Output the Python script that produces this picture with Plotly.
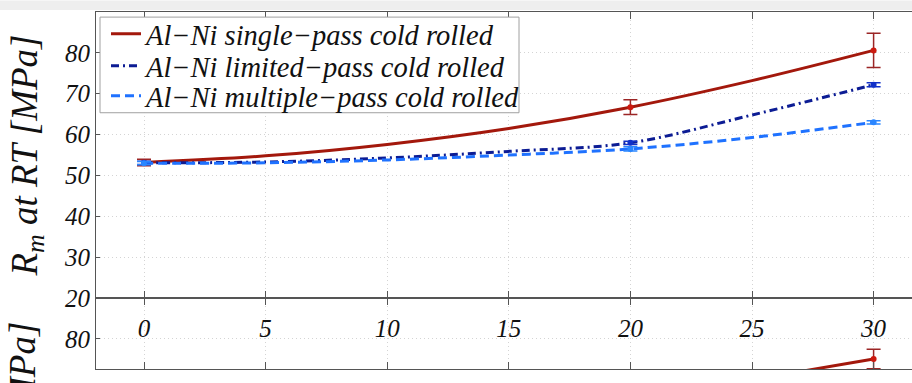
import plotly.graph_objects as go

# ---- data ----
x_pts = [0, 20, 30]
single_pts = [53.2, 66.7, 80.6]
single_err = [0.8, 1.8, 4.2]
limited_pts = [53.1, 58.0, 72.2]
limited_err = [0.4, 0.4, 0.5]
multiple_pts = [53.0, 56.5, 63.0]
multiple_err = [0.4, 0.5, 0.4]

x_curve = [0, 5, 10, 15, 20, 25, 30]
single_curve = [53.2, 54.8, 57.6, 61.5, 66.7, 73.2, 80.6]
limited_curve = [53.1, 53.3, 54.3, 55.9, 58.0, 64.8, 72.2]
multiple_curve = [53.0, 53.1, 53.8, 55.0, 56.5, 59.3, 63.0]

# lower panel (only its top edge is visible)
x_low_curve = [25, 30]
single_low_curve = [70.0, 75.1]
x_low_pts = [30]
single_low_pts = [75.1]
single_low_err = [2.4]

x_ticks = [0, 5, 10, 15, 20, 25, 30]
y_ticks = [20, 30, 40, 50, 60, 70, 80, 90]

names = ["Al\u2212Ni single\u2212pass cold rolled",
         "Al\u2212Ni limited\u2212pass cold rolled",
         "Al\u2212Ni multiple\u2212pass cold rolled"]

RED = "#a3180c"
RED_PT = "#cc1a10"
RED_ERR = "#9b2525"
DBLUE = "#0c1c94"
DBLUE_PT = "#1030c8"
LBLUE = "#1f72ff"
LBLUE_PT = "#2a86ff"

SERIF = "Liberation Serif"

fig = go.Figure()

fig.add_trace(go.Scatter(x=x_curve, y=single_curve, mode="lines", name=names[0],
                         line=dict(color=RED, width=3, shape="spline"),
                         legend="legend", xaxis="x", yaxis="y"))
fig.add_trace(go.Scatter(x=x_curve, y=limited_curve, mode="lines", name=names[1],
                         line=dict(color=DBLUE, width=3, shape="spline", dash="8px,4px,2px,4px"),
                         legend="legend2", xaxis="x", yaxis="y"))
fig.add_trace(go.Scatter(x=x_curve, y=multiple_curve, mode="lines", name=names[2],
                         line=dict(color=LBLUE, width=3, shape="spline", dash="9px,5px"),
                         legend="legend3", xaxis="x", yaxis="y"))

for ys, es, mc, ec in [(single_pts, single_err, RED_PT, RED_ERR),
                       (limited_pts, limited_err, DBLUE_PT, DBLUE_PT),
                       (multiple_pts, multiple_err, LBLUE_PT, LBLUE_PT)]:
    fig.add_trace(go.Scatter(x=x_pts, y=ys, mode="markers", showlegend=False,
                             marker=dict(color=mc, size=6),
                             error_y=dict(type="data", array=es, visible=True,
                                          color=ec, thickness=1.5, width=7),
                             xaxis="x", yaxis="y"))

fig.add_trace(go.Scatter(x=x_low_curve, y=single_low_curve, mode="lines", showlegend=False,
                         line=dict(color=RED, width=3, shape="spline"),
                         xaxis="x2", yaxis="y2"))
fig.add_trace(go.Scatter(x=x_low_pts, y=single_low_pts, mode="markers", showlegend=False,
                         marker=dict(color=RED_PT, size=6),
                         error_y=dict(type="data", array=single_low_err, visible=True,
                                      color=RED_ERR, thickness=1.5, width=7),
                         xaxis="x2", yaxis="y2"))

tickfont = dict(family=SERIF, size=25, color="#111", style="italic")
split = (383 - 309.3) / 371.0
xr = [-48 / 24.32, (912 - 144) / 24.32]


def px_x(p):
    return (p - 96) / 816.0


def px_y(p):
    return 1 - (p - 12) / 371.0


axis_common = dict(showline=True, linecolor="#555", linewidth=1, ticks="inside",
                   tickcolor="#555", showgrid=True, gridcolor="#d4d4d4", griddash="1px,3px",
                   gridwidth=1, zeroline=False, tickfont=tickfont)

legfont = dict(family=SERIF, size=28.5, color="#111", style="italic")
leg_common = dict(x=px_x(106), xanchor="left", yanchor="middle", bgcolor="rgba(0,0,0,0)",
                  borderwidth=0, font=legfont)

fig.update_layout(
    width=912, height=383,
    margin=dict(l=96, r=0, t=12, b=0),
    paper_bgcolor="white", plot_bgcolor="white",
    font=dict(family=SERIF),
    xaxis=dict(domain=[0, 1], anchor="y", range=xr, tickvals=x_ticks, ticklen=7,
               mirror="ticks", ticklabelstandoff=8, **axis_common),
    yaxis=dict(domain=[split, 1], anchor="x", range=[20, 90], tickvals=y_ticks, ticklen=4,
               title=dict(text="R<sub>m</sub> at RT [MPa]", standoff=15,
                          font=dict(family=SERIF, size=37, color="#111", style="italic")),
               **axis_common),
    xaxis2=dict(domain=[0, 1], anchor="y2", range=xr, tickvals=x_ticks, ticklen=7,
                mirror="ticks", showticklabels=False, **axis_common),
    yaxis2=dict(domain=[0, split], anchor="x2", range=[90 - 73.7 / 4.247, 90], tickvals=[80],
                ticklen=4, **axis_common),
    legend=dict(y=px_y(35), **leg_common),
    legend2=dict(y=px_y(68.3), **leg_common),
    legend3=dict(y=px_y(99.5), **leg_common),
    showlegend=True,
    shapes=[dict(type="rect", xref="paper", yref="paper", x0=-0.2, x1=1.0,
                 y0=1 + 2 / 371, y1=1 + 12 / 371, fillcolor="#eeeeee",
                 line=dict(width=0), layer="below"),
            dict(type="rect", xref="paper", yref="paper", x0=px_x(100), x1=px_x(519),
                 y0=px_y(116.7), y1=px_y(17.3), fillcolor="white",
                 line=dict(color="#a0a0a0", width=1), layer="above")],
    annotations=[dict(text="[MPa]", xref="paper", yref="paper",
                      x=px_x(22), y=px_y(332), xanchor="center",
                      yanchor="top", textangle=-90, showarrow=False,
                      font=dict(family=SERIF, size=37, color="#111", style="italic"))],
)

fig.write_html("out.html")
